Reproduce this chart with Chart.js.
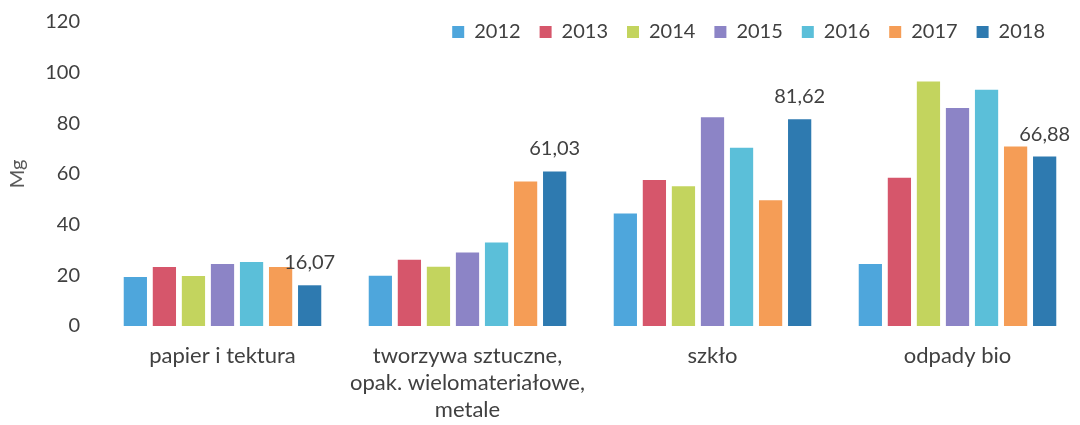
<!DOCTYPE html>
<html>
<head>
<meta charset="utf-8">
<script src="https://cdn.jsdelivr.net/npm/chart.js@4"></script>
<style>
  html, body { margin: 0; padding: 0; background: #fff; }
  #wrap { width: 1080px; height: 425px; }
</style>
</head>
<body>
<div id="wrap"><canvas id="chart"></canvas></div>
<script>
const categories = [
  "papier i tektura",
  ["tworzywa sztuczne,", "opak. wielomateriałowe,", "metale"],
  "szkło",
  "odpady bio"
];
const years = ["2012", "2013", "2014", "2015", "2016", "2017", "2018"];

const v2012 = [19.3, 19.8, 44.4, 24.5];
const v2013 = [23.3, 26.2, 57.6, 58.5];
const v2014 = [19.7, 23.4, 55.2, 96.5];
const v2015 = [24.5, 29.0, 82.4, 86.1];
const v2016 = [25.3, 33.0, 70.4, 93.3];
const v2017 = [23.3, 57.0, 49.6, 70.9];
const v2018 = [16.07, 61.03, 81.62, 66.88];

const yTicks = [0, 20, 40, 60, 80, 100, 120];

const series = [v2012, v2013, v2014, v2015, v2016, v2017, v2018];
const colors = ["#4ea6dc", "#d6566b", "#c3d45e", "#8c84c6", "#5bbfd9", "#f59d56", "#2e7ab0"];

const txt = "#404040";
const font = { family: "Lato", size: 20 };

// only the last year gets value labels, like in the original
const lastYearLabels = {
  id: "lastYearLabels",
  afterDatasetsDraw(chart) {
    const i = chart.data.datasets.length - 1;
    const meta = chart.getDatasetMeta(i);
    const ctx = chart.ctx;
    ctx.save();
    ctx.font = "20px Lato";
    ctx.fillStyle = txt;
    ctx.textAlign = "center";
    ctx.textBaseline = "alphabetic";
    meta.data.forEach((bar, j) => {
      const v = chart.data.datasets[i].data[j];
      ctx.fillText(v.toFixed(2).replace(".", ","), bar.x, bar.y - 16);
    });
    ctx.restore();
  }
};

// legend floats over the plot, so it must not eat vertical space
const flatLegend = {
  id: "flatLegend",
  beforeInit(chart) {
    const fit = chart.legend.fit;
    chart.legend.fit = function () {
      fit.call(this);
      this.height = 20;
    };
  },
  afterLayout(chart) {
    const lg = chart.legend;
    lg.top = 3;
    lg.bottom = 60;
    lg.right -= 16;
  }
};

new Chart(document.getElementById("chart"), {
  type: "bar",
  data: {
    labels: categories,
    datasets: years.map((y, i) => ({
      label: y,
      data: series[i],
      backgroundColor: colors[i],
      categoryPercentage: 0.83,
      barPercentage: 0.8
    }))
  },
  options: {
    responsive: true,
    maintainAspectRatio: false,
    animation: false,
    layout: { autoPadding: false, padding: { top: 2, left: 2, right: 0, bottom: 3 } },
    plugins: {
      legend: {
        position: "top",
        align: "end",
        labels: { boxWidth: 12, boxHeight: 12, padding: 19, color: txt, font: font }
      },
      tooltip: { enabled: false }
    },
    scales: {
      x: {
        grid: { display: false, drawTicks: false },
        border: { display: false },
        ticks: {
          color: txt,
          font: { family: "Lato", size: 22, lineHeight: 1.23 },
          padding: 16,
          maxRotation: 0,
          autoSkip: false
        },
        afterFit(scale) {
          scale.height = 96;
        }
      },
      y: {
        min: 0,
        max: 120,
        afterBuildTicks(axis) {
          axis.ticks = yTicks.map(v => ({ value: v }));
        },
        grid: { display: false, drawTicks: false },
        border: { display: false },
        ticks: { color: txt, font: font, padding: 20 },
        title: {
          display: true,
          text: "Mg",
          color: "#595959",
          font: font,
          padding: { top: 4, bottom: 0 }
        },
        afterFit(scale) {
          scale.width = 98;
          scale.paddingTop = 0;
          scale.paddingBottom = 0;
        }
      }
    }
  },
  plugins: [lastYearLabels, flatLegend]
});
</script>
</body>
</html>
